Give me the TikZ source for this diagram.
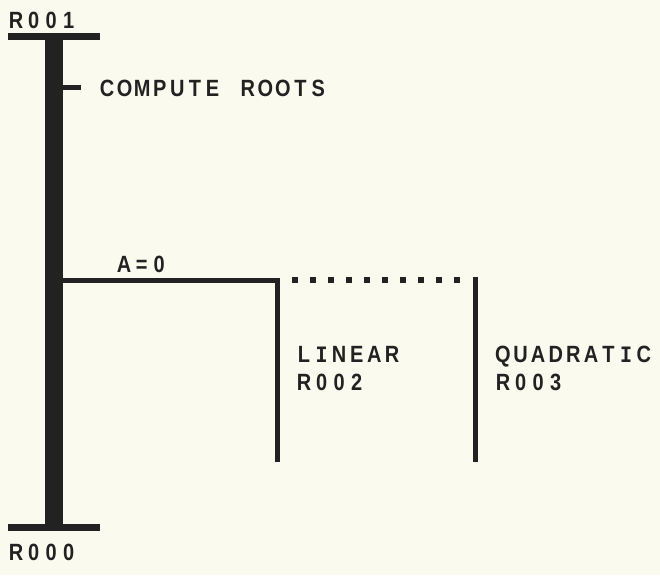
\documentclass[tikz,border=0pt]{standalone}
\usepackage{fontspec}
\newfontfamily\plotfont{Liberation Sans}[FakeStretch=0.85]
\newfontfamily\plotbarfont{Liberation Mono}[FakeStretch=0.85]
\definecolor{inkc}{RGB}{34,34,34}
\definecolor{paperc}{RGB}{251,250,238}
% fixed-pitch lettering: every character sits in a cell of equal width;
% the letter I is taken from the mono face so that it keeps its bars
\newcommand\plotchars[1]{\plotcharsloop#1\relax}
\def\plotcharsloop#1{\ifx#1\relax\else
  \makebox[17.6pt][c]{\ifx#1I{\plotbarfont\bfseries I}\else#1\fi}%
  \expandafter\plotcharsloop\fi}
\tikzset{
  lbl/.style={font=\plotfont\bfseries\fontsize{23.5}{23.5}\selectfont, text=inkc,
              inner sep=0pt, anchor=base west},
  trunk/.style={draw=inkc, line width=18pt},
  endbar/.style={draw=inkc, line width=7pt},
  branch/.style={draw=inkc, line width=5pt, line join=miter},
  dotrow/.style={draw=inkc, line width=5.5pt, dash pattern=on 5.5pt off 12.5pt},
}
\begin{document}
\begin{tikzpicture}[x=1pt,y=-1pt]
  \fill[paperc] (0,0) rectangle (660,575);
  \useasboundingbox (0,0) rectangle (660,575);

  % main module R001
  \coordinate (top) at (54,37);
  \coordinate (bot) at (54,527);
  \coordinate (topL) at (8,37);
  \coordinate (topR) at (100,37);
  \coordinate (botL) at (8,527);
  \coordinate (botR) at (100,527);
  \draw[trunk] (top) -- (bot);
  \draw[endbar] (topL) -- (topR);
  \draw[endbar] (botL) -- (botR);

  \node[lbl] (r001) at (7,29) {\plotchars{R001}};
  \node[lbl] (r000) at (7,560) {\plotchars{R000}};

  % comment tick
  \coordinate (tick0) at (54,88);
  \coordinate (tick1) at (81,88);
  \draw[branch] (tick0) -- (tick1);
  \node[lbl] (cmt) at (98,96) {\plotchars{COMPUTE~ROOTS}};

  % selection A=0
  \coordinate (selA) at (54,280);
  \coordinate (linTop) at (277,280);
  \coordinate (linBot) at (277,462);
  \draw[branch] (selA) -- (linTop) -- (linBot);
  \node[lbl] (cond) at (115,272) {\plotchars{A=0}};

  % alternative (else) branch
  \coordinate (dot0) at (292.25,280);
  \coordinate (dot1) at (459.75,280);
  \draw[dotrow] (dot0) -- (dot1);
  \coordinate (quaTop) at (475,277);
  \coordinate (quaBot) at (475,462);
  \draw[branch] (quaTop) -- (quaBot);

  \node[lbl] (lin) at (295,362) {\plotchars{LINEAR}};
  \node[lbl] (r002) at (295,390) {\plotchars{R002}};
  \node[lbl] (qua) at (494,362) {\plotchars{QUADRATIC}};
  \node[lbl] (r003) at (494,390) {\plotchars{R003}};
\end{tikzpicture}
\end{document}
